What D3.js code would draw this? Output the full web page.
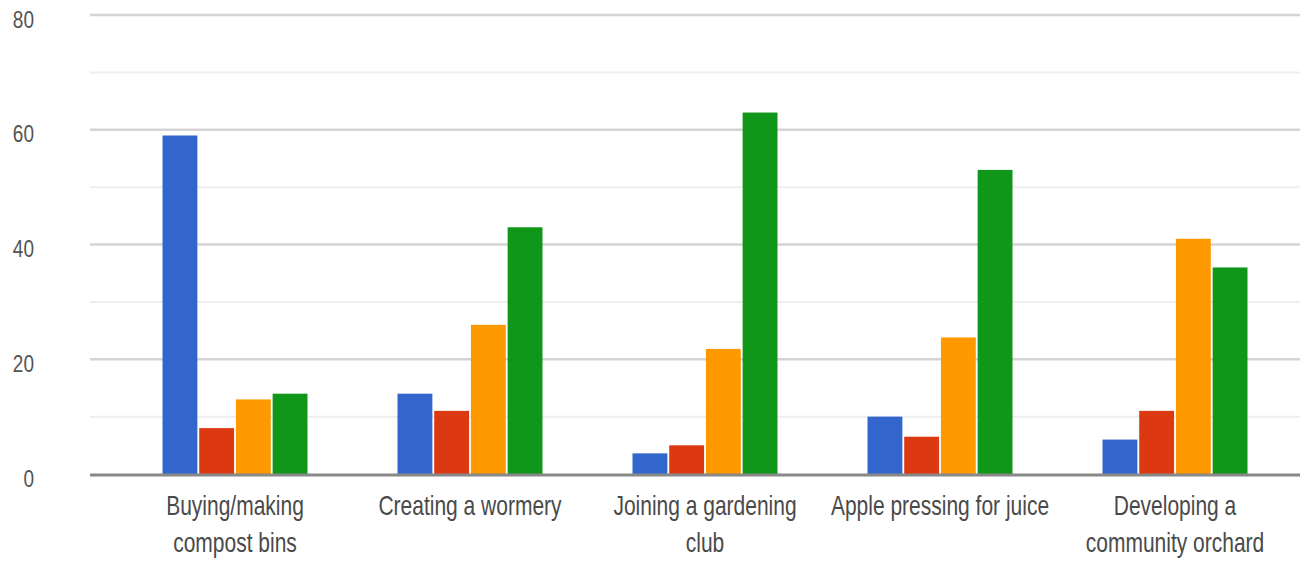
<!DOCTYPE html>
<html>
<head>
<meta charset="utf-8">
<script src="https://cdn.jsdelivr.net/npm/d3@7"></script>
<style>
  body { margin: 0; background: #fff; }
  svg { display: block; }
</style>
</head>
<body>
<div id="chart"></div>
<script>
// chart data
const categories = ["Buying/making compost bins", "Creating a wormery", "Joining a gardening club", "Apple pressing for juice", "Developing a community orchard"];
const categoryLines = [["Buying/making", "compost bins"], ["Creating a wormery"], ["Joining a gardening", "club"], ["Apple pressing for juice"], ["Developing a", "community orchard"]];
const seriesNames = ["s1", "s2", "s3", "s4"];
const seriesColors = ["#3366cc", "#dc3912", "#ff9900", "#109618"];
const s1 = [59, 14, 3.6, 10, 6];
const s2 = [8, 11, 5, 6.5, 11];
const s3 = [13, 26, 21.8, 23.8, 41];
const s4 = [14, 43, 63, 53, 36];
const majorTicks = [0, 20, 40, 60, 80];
const minorTicks = [10, 30, 50, 70];

const width = 1300, height = 564;
const series = [s1, s2, s3, s4];

const svg = d3.select("#chart").append("svg")
    .attr("width", width)
    .attr("height", height);

const y = d3.scaleLinear().domain([0, 80]).range([474, 15]);
const x0 = d3.scaleBand().domain(categories).range([117.5, 1292.5]).paddingInner(0.383).paddingOuter(0.1915);
const x1 = d3.scaleBand().domain(seriesNames).range([0, x0.bandwidth()]).paddingInner(0.05);

const gridLeft = 90, gridRight = 1300;

// gridlines
svg.append("g").selectAll("line").data(minorTicks).join("line")
    .attr("x1", gridLeft).attr("x2", gridRight)
    .attr("y1", d => y(d)).attr("y2", d => y(d))
    .attr("stroke", "#eeeeee").attr("stroke-width", 2);
svg.append("g").selectAll("line").data(majorTicks.filter(d => d > 0)).join("line")
    .attr("x1", gridLeft).attr("x2", gridRight)
    .attr("y1", d => y(d)).attr("y2", d => y(d))
    .attr("stroke", "#d4d4d4").attr("stroke-width", 2.5);

// y labels (text is stretched vertically in the original)
svg.append("g").selectAll("text").data(majorTicks).join("text")
    .attr("transform", d => `translate(34, ${y(d) + 6}) scale(1, 1.3)`)
    .attr("text-anchor", "end")
    .attr("dominant-baseline", "middle")
    .attr("font-family", "Liberation Sans, Arial, sans-serif")
    .attr("font-size", 19)
    .attr("fill", "#555")
    .text(d => d);

// bars
const groups = svg.append("g").selectAll("g").data(categories).join("g")
    .attr("transform", d => `translate(${x0(d)},0)`);
groups.selectAll("rect")
    .data((d, i) => seriesNames.map((s, j) => ({ s, v: series[j][i], c: seriesColors[j] })))
    .join("rect")
    .attr("x", d => x1(d.s))
    .attr("y", d => y(d.v))
    .attr("width", x1.bandwidth())
    .attr("height", d => y(0) - y(d.v))
    .attr("fill", d => d.c);

// baseline
svg.append("line")
    .attr("x1", gridLeft).attr("x2", gridRight)
    .attr("y1", y(0) + 1).attr("y2", y(0) + 1)
    .attr("stroke", "#888").attr("stroke-width", 3);

// x labels
const lbl = svg.append("g").selectAll("g").data(categories).join("g")
    .attr("transform", d => `translate(${x0(d) + x0.bandwidth() / 2},0)`);
lbl.selectAll("text")
    .data((d, i) => categoryLines[i])
    .join("text")
    .attr("transform", (d, i) => `translate(0, ${508 + i * 37}) scale(1, 1.3)`)
    .attr("text-anchor", "middle")
    .attr("dominant-baseline", "middle")
    .attr("font-family", "Liberation Sans, Arial, sans-serif")
    .attr("font-size", 21)
    .attr("fill", "#4a4a4a")
    .text(d => d);
</script>
</body>
</html>
